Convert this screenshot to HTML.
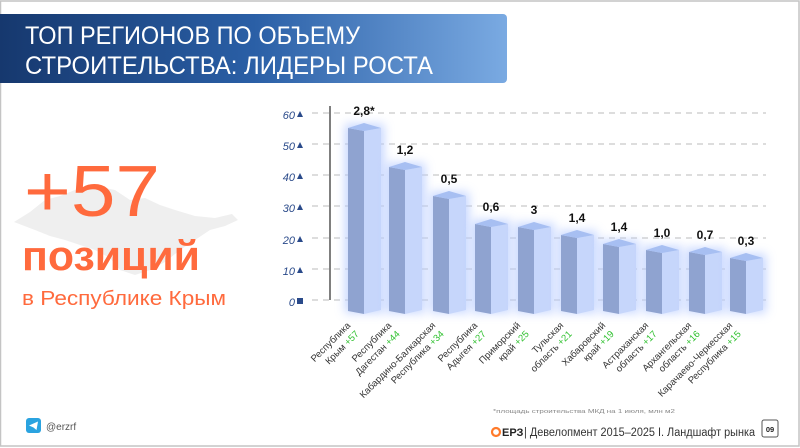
<!DOCTYPE html>
<html><head><meta charset="utf-8"><style>
html,body{margin:0;padding:0;background:#fff}
svg{display:block}
text{font-family:"Liberation Sans",sans-serif}
</style></head><body>
<svg width="800" height="448" viewBox="0 0 800 448" xmlns="http://www.w3.org/2000/svg">
<defs>
<linearGradient id="hg" x1="0" x2="1" y1="0" y2="0">
<stop offset="0" stop-color="#16386e"/><stop offset="0.5" stop-color="#2a5fa6"/><stop offset="1" stop-color="#7aaae2"/>
</linearGradient>
<filter id="glow" x="-50%" y="-20%" width="200%" height="140%"><feGaussianBlur stdDeviation="5"/></filter>
</defs>
<rect x="0" y="0" width="800" height="448" fill="#fff"/>
<rect x="0.5" y="1" width="798.5" height="445" fill="none" stroke="#c4c4c4" stroke-width="1.5"/>
<path d="M0 14 H503 a4 4 0 0 1 4 4 V79 a4 4 0 0 1 -4 4 H0 Z" fill="url(#hg)"/>
<text x="25" y="44" fill="#fff" font-size="25" textLength="335" lengthAdjust="spacingAndGlyphs">ТОП РЕГИОНОВ ПО ОБЪЕМУ</text>
<text x="25" y="74" fill="#fff" font-size="25" textLength="408" lengthAdjust="spacingAndGlyphs">СТРОИТЕЛЬСТВА: ЛИДЕРЫ РОСТА</text>

<!-- Crimea silhouette -->
<path d="M14 222 L30 212 L45 200 L60 196 L75 190 L95 186 L115 190 L130 200 L145 198 L160 205 L175 210 L195 216 L215 218 L232 214 L238 220 L225 226 L210 230 L195 240 L180 250 L165 262 L150 270 L135 275 L120 270 L110 258 L95 250 L80 245 L65 240 L50 236 L35 230 Z" fill="#efefef"/>
<text x="24" y="216" fill="#ff6a3d" font-size="72" textLength="136" lengthAdjust="spacingAndGlyphs">+57</text>
<text x="22" y="270" fill="#ff6a3d" font-size="42" font-weight="bold" textLength="178" lengthAdjust="spacingAndGlyphs">позиций</text>
<text x="22" y="305" fill="#ff6a3d" font-size="20" textLength="204" lengthAdjust="spacingAndGlyphs">в Республике Крым</text>

<!-- telegram -->
<rect x="26" y="418" width="15" height="15" rx="3" fill="#2aa3e0"/>
<path d="M29 425.5 L38 421.5 L36.5 430 L33.5 427.5 Z" fill="#fff"/>
<text x="46" y="430" fill="#555" font-size="10">@erzrf</text>

<!-- grid -->
<g stroke="#bbb" stroke-dasharray="6,5" stroke-width="1">
<line x1="312" x2="766" y1="113" y2="113"/><line x1="312" x2="766" y1="144" y2="144"/>
<line x1="312" x2="766" y1="175" y2="175"/><line x1="312" x2="766" y1="206" y2="206"/>
<line x1="312" x2="766" y1="238" y2="238"/><line x1="312" x2="766" y1="269" y2="269"/>
<line x1="312" x2="766" y1="300" y2="300"/>
</g>
<line x1="330" x2="330" y1="106" y2="300" stroke="#555" stroke-width="1.5"/>
<g fill="#2a4a8a" font-size="11" font-style="italic" text-anchor="end">
<text x="295" y="119">60</text><text x="295" y="150">50</text><text x="295" y="181">40</text>
<text x="295" y="212">30</text><text x="295" y="244">20</text><text x="295" y="275">10</text><text x="295" y="306">0</text>
</g>
<g fill="#2a4a8a">
<path d="M297 117h6l-3-6z"/><path d="M297 148h6l-3-6z"/><path d="M297 179h6l-3-6z"/>
<path d="M297 210h6l-3-6z"/><path d="M297 242h6l-3-6z"/><path d="M297 273h6l-3-6z"/>
<rect x="297" y="298" width="6" height="6"/>
</g>

<g id="bars"></g>
<g id="labels"></g>

<text x="493" y="413" fill="#888" font-size="5.5" textLength="182" lengthAdjust="spacingAndGlyphs">*площадь строительства МКД на 1 июля, млн м2</text>
<circle cx="496" cy="432" r="4" fill="none" stroke="#ff7a2a" stroke-width="2.2"/>
<text x="502" y="436" fill="#222" font-size="11" font-weight="bold">ЕРЗ</text>
<text x="524" y="436" fill="#333" font-size="11.5" textLength="231" lengthAdjust="spacingAndGlyphs">| Девелопмент 2015–2025 I. Ландшафт рынка</text>
<rect x="762" y="420" width="16" height="17" rx="2" fill="#fff" stroke="#555" stroke-width="1"/>
<text x="770" y="432" fill="#222" font-size="7.5" text-anchor="middle" font-weight="bold">09</text>
</svg>
<script>
var L=[348,389,433,475,518,561,603,646,689,730];
var T=[127,166,195,223,226,234,243,249,251,257];
var V=["2,8*","1,2","0,5","0,6","3","1,4","1,4","1,0","0,7","0,3"];
var N=[["Республика","Крым","+57"],["Республика","Дагестан","+44"],["Кабардино-Балкарская","Республика","+34"],["Республика","Адыгея","+27"],["Приморский","край","+25"],["Тульская","область","+21"],["Хабаровский","край","+19"],["Астраханская","область","+17"],["Архангельская","область","+16"],["Карачаево-Черкесская","Республика","+15"]];
var b="",l="";
for(var i=0;i<10;i++){var x=L[i],s=x+16,r=x+33,t=T[i],bt=313;
b+='<rect x="'+(x-3)+'" y="'+(t-3)+'" width="39" height="'+(bt-t+3)+'" fill="#b8ccff" opacity="0.8" filter="url(#glow)"/>';
b+='<polygon points="'+x+','+(t+1)+' '+s+','+(t+4)+' '+s+','+(bt+1)+' '+x+','+(bt-2)+'" fill="#8fa3d0"/>';
b+='<polygon points="'+s+','+(t+4)+' '+r+','+(t+1)+' '+r+','+(bt-3)+' '+s+','+(bt+1)+'" fill="#c6d6fb"/>';
b+='<polygon points="'+x+','+(t+1)+' '+s+','+(t-4)+' '+r+','+(t+1)+' '+s+','+(t+4)+'" fill="#a7bff2"/>';
l+='<text x="'+(x+16)+'" y="'+(t-12)+'" font-size="12" fill="#111" text-anchor="middle" font-weight="bold">'+V[i]+'</text>';
var ax=x+3,ay=326;
l+='<text transform="translate('+ax+','+ay+') rotate(-45)" font-size="9.5" fill="#333" text-anchor="end"><tspan x="0" y="0">'+N[i][0]+'</tspan><tspan x="0" dy="12">'+N[i][1]+' <tspan fill="#2ec02e">'+N[i][2]+'</tspan></tspan></text>';
}
document.getElementById("bars").innerHTML=b;
document.getElementById("labels").innerHTML=l;
</script>
</body></html>
